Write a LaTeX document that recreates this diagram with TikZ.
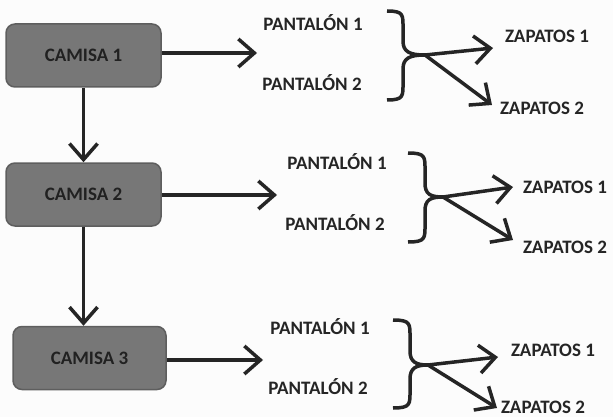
\documentclass[tikz,border=0pt]{standalone}
\usepackage{fontspec}
\setmainfont{Carlito}
\usetikzlibrary{arrows.meta}
\definecolor{ink}{HTML}{252525}
\definecolor{boxfill}{HTML}{777777}
\definecolor{boxline}{HTML}{5E5E5E}
\definecolor{bg}{HTML}{FCFCFC}
\tikzset{
  camisa/.style={draw=boxline, line width=1.5pt, fill=boxfill, rounded corners=9pt,
     minimum width=155pt, minimum height=63pt, inner sep=0pt,
     font=\fontsize{19}{21}\selectfont\bfseries, text=ink!90!black},
  lbl/.style={inner sep=0pt, font=\fontsize{19}{21}\selectfont\bfseries, text=ink},
  conn/.style={draw=ink, line width=3.5pt, -{Straight Barb[length=16pt,width=28pt]}},
  brace/.style={draw=ink, line width=3.5pt, line cap=butt},
}
\begin{document}
\begin{tikzpicture}[x=1pt,y=-1pt]
\fill[bg] (0,0) rectangle (613,417);
\useasboundingbox (0,0) rectangle (613,417);

% boxes
\node[camisa] (c1) at (83.5,55.5) {CAMISA 1};
\node[camisa] (c2) at (83.5,194.5) {CAMISA 2};
\node[camisa, minimum width=153pt] (c3) at (89.5,358) {CAMISA 3};

% pantalones
\node[lbl] (p11) at (313,23) {PANTALÓN 1};
\node[lbl] (p12) at (312,83) {PANTALÓN 2};
\node[lbl] (p21) at (337,162) {PANTALÓN 1};
\node[lbl] (p22) at (335,223) {PANTALÓN 2};
\node[lbl] (p31) at (320,327) {PANTALÓN 1};
\node[lbl] (p32) at (318,387) {PANTALÓN 2};

% zapatos
\node[lbl] (z11) at (547,36) {ZAPATOS 1};
\node[lbl] (z12) at (542,108) {ZAPATOS 2};
\node[lbl] (z21) at (565,187) {ZAPATOS 1};
\node[lbl] (z22) at (565,247) {ZAPATOS 2};
\node[lbl] (z31) at (553,350) {ZAPATOS 1};
\node[lbl] (z32) at (543,407) {ZAPATOS 2};

% free ends and brace cusps
\coordinate (a1) at (257,53);
\coordinate (a2) at (277,195);
\coordinate (a3) at (263,360);
\coordinate (k1) at (425,55);
\coordinate (k2) at (443,197);
\coordinate (k3) at (428,365);
\coordinate (t11) at (493,48);
\coordinate (t12) at (492,105);
\coordinate (t21) at (513,187);
\coordinate (t22) at (513,240);
\coordinate (t31) at (498,357);
\coordinate (t32) at (497,408);

% vertical arrows
\draw[conn] (c1.south) -- (c2.north);
\draw[conn] (c2.south) -- (c2.south |- c3.north);

% horizontal arrows
\draw[conn] (a1 -| c1.east) -- (a1);
\draw[conn] (a2 -| c2.east) -- (a2);
\draw[conn] (a3 -| c3.east) -- (a3);

% braces
\draw[brace] (387,11) .. controls (404,11) and (403,15) .. (403,29) -- (403,41)
  .. controls (403,52) and (410,55) .. (k1)
  .. controls (410,55) and (403,58) .. (403,69) -- (403,82)
  .. controls (403,96) and (404,100) .. (387,100);
\draw[brace] (408,153) .. controls (426,153) and (425,157) .. (425,171) -- (425,183)
  .. controls (425,194) and (430,197) .. (k2)
  .. controls (430,197) and (425,200) .. (425,211) -- (425,224)
  .. controls (425,238) and (426,242) .. (408,242);
\draw[brace] (393,320) .. controls (411,320) and (410,324) .. (410,338) -- (410,351)
  .. controls (410,362) and (416,365) .. (k3)
  .. controls (416,365) and (410,368) .. (410,379) -- (410,390)
  .. controls (410,404) and (411,408) .. (393,408);

% arrows to zapatos
\draw[conn] (k1) -- (t11);
\draw[conn] (k1) -- (t12);
\draw[conn] (k2) -- (t21);
\draw[conn] (k2) -- (t22);
\draw[conn] (k3) -- (t31);
\draw[conn] (k3) -- (t32);
\end{tikzpicture}
\end{document}
